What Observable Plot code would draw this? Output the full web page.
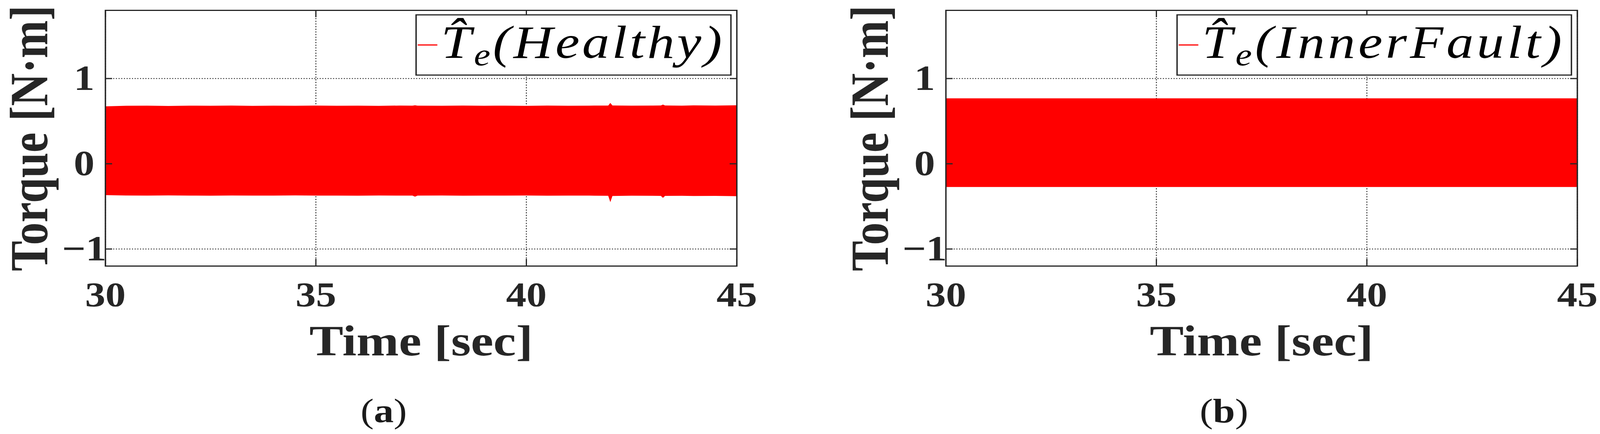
<!DOCTYPE html>
<html>
<head>
<meta charset="utf-8">
<script src="https://cdn.jsdelivr.net/npm/d3@7"></script>
<script src="https://cdn.jsdelivr.net/npm/@observablehq/plot@0.6"></script>
<style>
  html, body { margin: 0; padding: 0; background: #ffffff; overflow: hidden; }
  #page { position: relative; width: 3461px; height: 1110px; transform: scaleX(1.18354); transform-origin: 0 0; }
  .panel { position: absolute; top: 0; }
  .caption { position: absolute; top: 1008px; width: 400px; margin-left: -200px; text-align: center;
             font-family: "Liberation Serif", "Times New Roman", serif; font-size: 86px; line-height: 86px; color: #1a1a1a; }
</style>
</head>
<body>
<div id="page"></div>
<script>
// ---------------- data ----------------
const xTicks = [30, 35, 40, 45];
const yTicks = [-1, 0, 1];
const yTickLabels = ["\u22121", "0", "1"];
const xDomain = [30, 45];
const yDomain = [-1.2, 1.8];
const xLabel = "Time [sec]";
const yLabel = "Torque [N\u00B7m]";
const legendNames = ["Healthy", "InnerFault"];
const captions = ["a", "b"];

// envelope of the densely oscillating estimated torque
const healthyTime  = [30.0, 30.5, 31.0, 31.5, 32.0, 32.5, 33.0, 33.5, 34.0, 34.5, 35.0, 35.5, 36.0, 36.5, 37.0, 37.3, 37.36, 37.42, 38.0, 38.5, 39.0, 39.5, 40.0, 40.5, 41.0, 41.5, 41.95, 42.0, 42.05, 42.5, 43.0, 43.2, 43.25, 43.3, 43.7, 44.0, 44.5, 45.0];
const healthyUpper = [0.672, 0.678, 0.680, 0.676, 0.680, 0.679, 0.681, 0.677, 0.680, 0.678, 0.681, 0.679, 0.680, 0.677, 0.681, 0.680, 0.684, 0.680, 0.678, 0.681, 0.679, 0.680, 0.677, 0.681, 0.679, 0.680, 0.681, 0.712, 0.682, 0.680, 0.681, 0.682, 0.692, 0.682, 0.680, 0.683, 0.681, 0.684];
const healthyLower = [-0.370, -0.374, -0.376, -0.373, -0.375, -0.377, -0.374, -0.376, -0.375, -0.373, -0.376, -0.375, -0.377, -0.374, -0.376, -0.376, -0.388, -0.376, -0.374, -0.377, -0.375, -0.376, -0.374, -0.377, -0.375, -0.376, -0.378, -0.452, -0.380, -0.377, -0.378, -0.379, -0.402, -0.379, -0.378, -0.380, -0.379, -0.382];

const faultTime  = [30, 35, 40, 45];
const faultUpper = [0.766, 0.766, 0.766, 0.766];
const faultLower = [-0.275, -0.275, -0.275, -0.275];

// ---------------- layout ----------------
const W = 1640, H = 960;
const mL = 227.5, mR = 46.7, mT = 26, mB = 280;
const plotW = W - mL - mR, plotH = H - mT - mB;
const ink = "#262626";
const serif = "'Liberation Serif', 'Times New Roman', serif";

const panels = [
  {cap: captions[0], name: legendNames[0], time: healthyTime, upper: healthyUpper, lower: healthyLower, left: 0,      legendWidth: 681, textWidth: 613},
  {cap: captions[1], name: legendNames[1], time: faultTime,   upper: faultUpper,   lower: faultLower,   left: 1817.5, legendWidth: 853, textWidth: 785}
];

const page = document.getElementById("page");

for (const p of panels) {
  const data = p.time.map((t, i) => ({t, hi: p.upper[i], lo: p.lower[i]}));
  const svg = Plot.plot({
    width: W, height: H,
    marginLeft: mL, marginRight: mR, marginTop: mT, marginBottom: mB,
    style: {fontFamily: serif, color: ink, background: "transparent", overflow: "visible"},
    x: {domain: xDomain},
    y: {domain: yDomain},
    marks: [
      Plot.ruleY(yTicks, {y: d => d, stroke: ink, strokeWidth: 2.4, strokeDasharray: "2.2,3.6"}),
      Plot.ruleX(xTicks, {x: d => d, stroke: ink, strokeWidth: 2.2, strokeDasharray: "2.6,4.2"}),
      Plot.areaY(data, {x: "t", y1: "lo", y2: "hi", fill: "#ff0000", curve: "linear"}),
      Plot.tickY(yTicks, {y: d => d, stroke: ink, strokeWidth: 3, insetRight: plotW - 15}),
      Plot.tickY(yTicks, {y: d => d, stroke: ink, strokeWidth: 3, insetLeft: plotW - 15}),
      Plot.tickX(xTicks, {x: d => d, stroke: ink, strokeWidth: 2.6, insetBottom: plotH - 18}),
      Plot.tickX(xTicks, {x: d => d, stroke: ink, strokeWidth: 2.6, insetTop: plotH - 18}),
      Plot.frame({stroke: ink, strokeWidth: 3}),
      Plot.axisX(xTicks, {tickSize: 0, tickPadding: 40, fontSize: 88, fontWeight: "bold", fill: ink, label: null}),
      Plot.axisY(yTicks, {tickSize: 0, tickPadding: 46, textAnchor: "middle", fontSize: 90, fontWeight: "bold", fill: ink, label: null,
                          tickFormat: d => yTickLabels[yTicks.indexOf(d)]}),
      Plot.text([xLabel], {text: d => d, frameAnchor: "bottom", textAnchor: "middle", dy: 150, lineAnchor: "top", fontSize: 110, fontWeight: "bold", fill: ink}),
      Plot.text([yLabel], {text: d => d, frameAnchor: "left", textAnchor: "middle", dx: -208, rotate: -90, lineAnchor: "top", fontSize: 116, fontWeight: "bold", fill: ink})
    ]
  });

  const holder = document.createElement("div");
  holder.className = "panel";
  holder.style.left = p.left + "px";
  holder.appendChild(svg);
  page.appendChild(holder);

  // legend box (MATLAB style, top right inside the axes)
  const s = d3.select(svg);
  const legendRight = 1581, ly = 38, lh = 154;
  const lx = legendRight - p.legendWidth;
  const g = s.append("g").attr("class", "legend").attr("text-anchor", "start");
  g.append("rect").attr("x", lx).attr("y", ly).attr("width", p.legendWidth).attr("height", lh)
    .attr("fill", "#ffffff").attr("stroke", ink).attr("stroke-width", 3);
  g.append("line").attr("x1", lx + 3.5).attr("x2", lx + 46).attr("y1", 115).attr("y2", 115)
    .attr("stroke", "#ff0000").attr("stroke-width", 3);
  const t = g.append("text").attr("x", lx + 54).attr("y", 148).attr("text-anchor", "start")
    .attr("font-family", serif).attr("font-style", "italic").attr("font-size", 118).attr("fill", "#000");
  const tT = t.append("tspan").text("T\u0302");
  const tSub = t.append("tspan").attr("font-size", 80).attr("dy", 19).text("e");
  const tRest = t.append("tspan").attr("dy", -19).text(`(${p.name})`);
  // widen the letter spacing so the label spans the same width as in the reference
  const natural = t.node().getComputedTextLength();
  const nGaps = 2 + p.name.length + 2;
  const ls = Math.max(0, (p.textWidth - natural) / nGaps);
  tT.attr("letter-spacing", ls);
  tSub.attr("letter-spacing", ls);
  tRest.attr("letter-spacing", ls);

  const cap = document.createElement("div");
  cap.className = "caption";
  cap.style.left = (p.left + 830) + "px";
  cap.innerHTML = `(<b>${p.cap}</b>)`;
  page.appendChild(cap);
}
</script>
</body>
</html>
